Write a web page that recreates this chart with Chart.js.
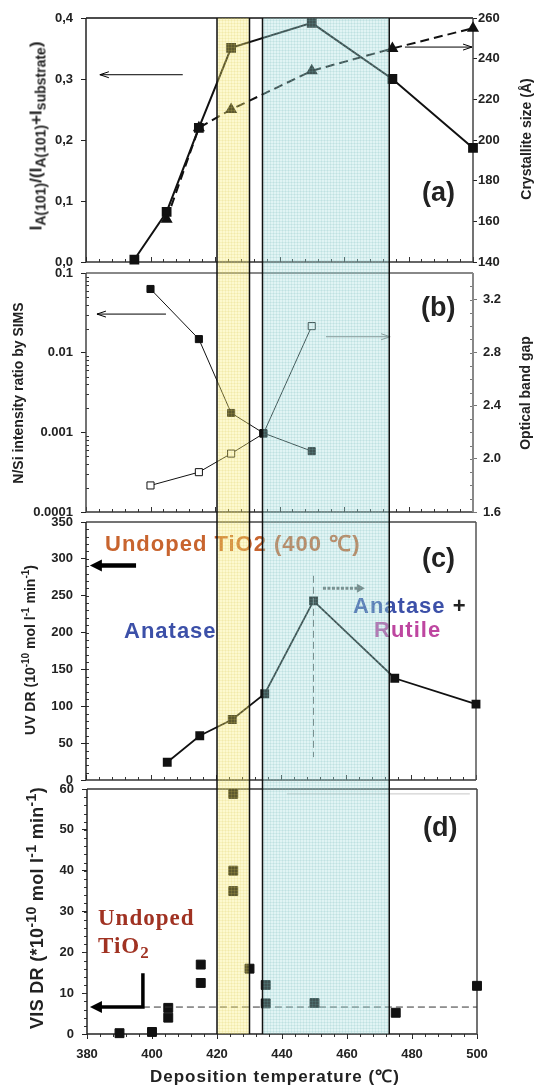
<!DOCTYPE html>
<html><head><meta charset="utf-8">
<script src="https://cdn.jsdelivr.net/npm/chart.js@4/dist/chart.umd.min.js"></script>
<style>
html,body{margin:0;padding:0;background:#fff;}
#wrap{position:relative;width:536px;height:1086px;overflow:hidden;font-family:'Liberation Sans',Arial,sans-serif;color:#222;}
canvas{position:absolute;left:0;top:0;width:536px;height:1086px;}
.t{position:absolute;white-space:nowrap;font-weight:bold;line-height:1;z-index:1;}
.rot{transform:translate(-50%,-50%) rotate(-90deg);}
.mid{transform:translateY(-50%);}
.t sub,.t sup{line-height:0;}
</style></head>
<body>
<div id="wrap">
<canvas id="ca" width="536" height="1086" style="z-index:0"></canvas>
<canvas id="cb" width="536" height="1086" style="z-index:0"></canvas>
<canvas id="cc" width="536" height="1086" style="z-index:0"></canvas>

<div class="t rot" style="left:36px;top:136px;font-size:17px;">I<sub style="font-size:14px">A(101)</sub>/(I<sub style="font-size:14px">A(101)</sub>+I<sub style="font-size:14px">substrate</sub>)</div>
<div class="t rot" style="left:526px;top:139px;font-size:14px;">Crystallite size (Å)</div>
<div class="t rot" style="left:18px;top:393px;font-size:14px;">N/Si intensity ratio by SIMS</div>
<div class="t rot" style="left:525px;top:393px;font-size:14px;">Optical band gap</div>
<div class="t rot" style="left:30px;top:650px;font-size:14px;">UV DR (10<sup style="font-size:10px">-10</sup> mol l<sup style="font-size:10px">-1</sup> min<sup style="font-size:10px">-1</sup>)</div>
<div class="t rot" style="left:37px;top:908px;font-size:18px;letter-spacing:0.3px;">VIS DR (*10<sup style="font-size:14px">-10</sup> mol l<sup style="font-size:14px">-1</sup> min<sup style="font-size:14px">-1</sup>)</div>
<div class="t" style="left:150px;top:1068px;font-size:17px;letter-spacing:1px;">Deposition temperature (℃)</div>

<div class="t mid" style="left:422px;top:192px;font-size:27px;">(a)</div>
<div class="t mid" style="left:421px;top:307px;font-size:27px;">(b)</div>
<div class="t mid" style="left:422px;top:558px;font-size:27px;">(c)</div>
<div class="t mid" style="left:423px;top:827px;font-size:27px;">(d)</div>

<div class="t mid" style="left:105px;top:544px;font-size:22px;letter-spacing:1px;color:#c8642e;">Undoped TiO2 (400 ℃)</div>
<div class="t mid" style="left:124px;top:631px;font-size:22px;letter-spacing:1px;color:#3c50a8;">Anatase</div>
<div class="t mid" style="left:353px;top:606px;font-size:22px;letter-spacing:1px;color:#3c50a8;">Anatase <span style="color:#222">+</span></div>
<div class="t mid" style="left:374px;top:630px;font-size:22px;letter-spacing:1px;color:#be46a0;">Rutile</div>
<div class="t mid" style="left:98px;top:917px;font-size:23px;letter-spacing:1px;color:#a03222;font-family:'Liberation Serif','DejaVu Serif',serif;">Undoped</div>
<div class="t mid" style="left:98px;top:945px;font-size:23px;letter-spacing:1px;color:#a03222;font-family:'Liberation Serif','DejaVu Serif',serif;">TiO<sub style="font-size:17px">2</sub></div>

<canvas id="cd" width="536" height="1086" style="z-index:2;pointer-events:none"></canvas>
</div>
<script>
// ---------------- data ----------------
const xTickLabels = [380, 400, 420, 440, 460, 480, 500];
// (a)
const aTemps = [395, 405, 415, 425, 450, 475, 500];
const aPeakRatio = [0.004, 0.082, 0.22, 0.351, 0.392, 0.30, 0.187];
const aCrystTemps = [405, 415, 425, 450, 475, 500];
const aCrystSize = [161, 206, 215, 234, 245, 255];
// (b)
const bTemps = [400, 415, 425, 435, 450];
const bNSiRatio = [0.063, 0.0148, 0.00175, 0.00098, 0.00058];
const bBandGap = [1.8, 1.9, 2.04, 2.19, 3.0];
// (c)
const cTemps = [405, 415, 425, 435, 450, 475, 500];
const cUvDR = [24, 60, 82, 117, 243, 138, 103];
const cUndopedUvDR = 291;
// (d)
const dTemps = [390, 400, 405, 405, 415, 415, 425, 425, 425, 430, 435, 435, 450, 475, 500];
const dVisDR = [0.2, 0.5, 6.4, 4, 17, 12.5, 58.8, 40, 35, 16, 12, 7.5, 7.6, 5.2, 11.8];
const dUndopedVisDR = 6.6;
// phase bands (deposition temperature)
const bandYellow = [420, 430];
const bandCyan = [434, 473];

// -------------- helpers --------------
const H = 1086, W = 536;
const tickFont = {family: "'Liberation Sans', Arial, sans-serif", weight: 'bold', size: 13};
const pts = (xs, ys) => xs.map((x, i) => ({x, y: ys[i]}));
const range = (a, b, s) => { const r = []; for (let v = a; v <= b + 1e-9; v += s) r.push(+v.toFixed(6)); return r; };
const xMinor = range(380, 500, 4);
const isMajorX = v => v % 20 === 0;

function drawArrow(ctx, path, o) {
  ctx.save();
  const col = o.color || '#000';
  ctx.strokeStyle = col; ctx.fillStyle = col;
  ctx.lineWidth = o.width || 1;
  ctx.setLineDash(o.dash || []);
  const n = path.length;
  const [x1, y1] = path[n - 2], [x2, y2] = path[n - 1];
  const ang = Math.atan2(y2 - y1, x2 - x1);
  const hl = o.head || 9, hw = o.headW || 3.5;
  let ex = x2, ey = y2;
  if (o.filled) { ex = x2 - Math.cos(ang) * hl * 0.7; ey = y2 - Math.sin(ang) * hl * 0.7; }
  ctx.beginPath();
  ctx.moveTo(path[0][0], path[0][1]);
  for (let i = 1; i < n - 1; i++) ctx.lineTo(path[i][0], path[i][1]);
  ctx.lineTo(ex, ey);
  ctx.stroke();
  ctx.setLineDash([]);
  const px = -Math.sin(ang), py = Math.cos(ang);
  const bx = x2 - Math.cos(ang) * hl, by = y2 - Math.sin(ang) * hl;
  ctx.beginPath();
  if (o.filled) {
    ctx.moveTo(x2, y2); ctx.lineTo(bx + px * hw, by + py * hw); ctx.lineTo(bx - px * hw, by - py * hw); ctx.closePath(); ctx.fill();
  } else {
    ctx.lineWidth = 1;
    ctx.moveTo(bx + px * hw, by + py * hw); ctx.lineTo(x2, y2); ctx.lineTo(bx - px * hw, by - py * hw); ctx.stroke();
  }
  ctx.restore();
}

const decor = {
  id: 'decor',
  beforeDatasetsDraw(chart, args, opts) {
    const ctx = chart.ctx, a = chart.chartArea;
    (opts.ticks || []).forEach(t => {
      const s = chart.scales[t.scale];
      ctx.save(); ctx.strokeStyle = t.color || '#333'; ctx.lineWidth = 1; ctx.beginPath();
      t.values.forEach(v => {
        const p = Math.round(s.getPixelForValue(v)) + 0.5;
        const len = (t.major && t.major(v)) ? t.majorLen : t.len;
        if (t.side === 'bottom') { const d = t.dir === 'in' ? -len : len; ctx.moveTo(p, a.bottom); ctx.lineTo(p, a.bottom + d); }
        if (t.side === 'left') { const d = t.dir === 'in' ? len : -len; ctx.moveTo(a.left, p); ctx.lineTo(a.left + d, p); }
        if (t.side === 'right') { const d = t.dir === 'in' ? -len : len; ctx.moveTo(a.right, p); ctx.lineTo(a.right + d, p); }
      });
      ctx.stroke(); ctx.restore();
    });
    const b = opts.box || {};
    const seg = {top: [a.left, a.top, a.right, a.top], bottom: [a.left, a.bottom, a.right, a.bottom],
                 left: [a.left, a.top, a.left, a.bottom], right: [a.right, a.top, a.right, a.bottom]};
    Object.keys(b).forEach(k => {
      const [x1, y1, x2, y2] = seg[k];
      ctx.save(); ctx.strokeStyle = b[k].c; ctx.lineWidth = b[k].w;
      ctx.beginPath(); ctx.moveTo(x1, y1); ctx.lineTo(x2, y2); ctx.stroke(); ctx.restore();
    });
  },
  afterDatasetsDraw(chart, args, opts) {
    const ctx = chart.ctx, X = chart.scales.x;
    (opts.lines || []).forEach(l => {
      const Y = chart.scales[l.scale];
      ctx.save(); ctx.strokeStyle = l.color; ctx.lineWidth = l.width; ctx.setLineDash(l.dash || []);
      ctx.beginPath();
      l.path.forEach((p, i) => { const fx = X.getPixelForValue(p[0]), fy = Y.getPixelForValue(p[1]); i ? ctx.lineTo(fx, fy) : ctx.moveTo(fx, fy); });
      ctx.stroke(); ctx.restore();
    });
    (opts.arrows || []).forEach(ar => {
      const Y = chart.scales[ar.scale];
      drawArrow(ctx, ar.path.map(p => [X.getPixelForValue(p[0]), Y.getPixelForValue(p[1])]), ar);
    });
  }
};

function yScale(o) {
  return Object.assign({
    type: 'linear',
    afterFit: s => { s.width = o.w; s.paddingTop = 0; s.paddingBottom = 0; },
    ticks: {font: tickFont, color: '#222', padding: o.pad || 8, stepSize: o.step, callback: o.cb},
    grid: {drawOnChartArea: false, tickLength: o.tl || 5, color: o.tc || '#222'},
    border: {display: false}
  }, o.extra);
}
const xHidden = {type: 'linear', min: 380, max: 500, display: false};

function make(id, datasets, scales, padding, plug) {
  return new Chart(document.getElementById(id), {
    type: 'line',
    data: {datasets},
    options: {
      responsive: false, animation: false, devicePixelRatio: 1,
      layout: {padding},
      scales,
      plugins: Object.assign({legend: {display: false}, tooltip: {enabled: false}}, plug)
    },
    plugins: [decor].concat(plug.extraPlugins || [])
  });
}

// ---------------- (a) ----------------
const chartA = make('ca', [
  {data: pts(aTemps, aPeakRatio), yAxisID: 'y', borderColor: '#111', borderWidth: 2, pointStyle: 'rect', pointRadius: 5.5,
   pointBackgroundColor: '#111', pointBorderColor: '#111', clip: false},
  {data: pts(aCrystTemps, aCrystSize), yAxisID: 'y2', borderColor: '#111', borderWidth: 2, borderDash: [9, 5], pointStyle: 'triangle', pointRadius: 5,
   pointBackgroundColor: '#111', pointBorderColor: '#111', clip: false}
], {
  x: xHidden,
  y: yScale({w: 86, step: 0.1, cb: v => v.toFixed(1).replace('.', ','), extra: {position: 'left', min: 0, max: 0.4}}),
  y2: yScale({w: 63, step: 20, tl: 4, pad: 1, extra: {position: 'right', min: 140, max: 260}})
}, {top: 18, bottom: H - 262, left: 0, right: 0}, {
  decor: {
    ticks: [{scale: 'x', side: 'bottom', dir: 'in', values: xMinor, len: 3, majorLen: 5, major: isMajorX}],
    box: {top: {c: '#111', w: 1.5}, bottom: {c: '#333', w: 1.5}, left: {c: '#222', w: 1.5}, right: {c: '#444', w: 1.5}},
    arrows: [
      {scale: 'y', path: [[410, 0.307], [384.3, 0.307]], width: 1, head: 9, headW: 3},
      {scale: 'y2', path: [[478.9, 245.7], [499.7, 245.7]], width: 1, head: 9, headW: 3}
    ]
  }
});

// ---------------- (b) ----------------
const logMinor = [];
[1e-4, 1e-3, 1e-2].forEach(d => { for (let m = 2; m <= 9; m++) logMinor.push(m * d); });
const chartB = make('cb', [
  {data: pts(bTemps, bNSiRatio), yAxisID: 'y', borderColor: '#111', borderWidth: 1, pointStyle: 'rect', pointRadius: 5,
   pointBackgroundColor: '#111', pointBorderColor: '#111', clip: false},
  {data: pts(bTemps, bBandGap), yAxisID: 'y2', borderColor: '#111', borderWidth: 1, pointStyle: 'rect', pointRadius: 5,
   pointBackgroundColor: '#fff', pointBorderColor: '#111', pointBorderWidth: 1, clip: false}
], {
  x: xHidden,
  y: yScale({w: 86, cb: v => String(v), extra: {type: 'logarithmic', position: 'left', min: 0.0001, max: 0.1,
    afterBuildTicks: s => { s.ticks = [1e-4, 1e-3, 1e-2, 1e-1].map(v => ({value: v})); }}}),
  y2: yScale({w: 63, step: 0.4, tl: 4, pad: 6, tc: '#777', cb: v => v.toFixed(1), extra: {position: 'right', min: 1.6, max: 3.4,
    afterBuildTicks: s => { s.ticks = [1.6, 2.0, 2.4, 2.8, 3.2].map(v => ({value: v})); }}})
}, {top: 273, bottom: H - 512, left: 0, right: 0}, {
  decor: {
    ticks: [
      {scale: 'x', side: 'bottom', dir: 'in', values: xMinor, len: 3, majorLen: 5, major: isMajorX},
      {scale: 'y', side: 'left', dir: 'in', values: logMinor, len: 3},
      {scale: 'y2', side: 'right', dir: 'in', values: range(1.7, 3.3, 0.1), len: 3, color: '#777'}
    ],
    box: {top: {c: '#888', w: 2}, bottom: {c: '#333', w: 1.5}, left: {c: '#444', w: 1.5}, right: {c: '#888', w: 2}},
    arrows: [
      {scale: 'y', path: [[404.8, 0.0305], [383.4, 0.0305]], width: 1, head: 9, headW: 3},
      {scale: 'y2', path: [[454.4, 2.92], [474.3, 2.92]], width: 1, head: 9, headW: 3, color: '#777'}
    ]
  }
});

// ---------------- (c) ----------------
const chartC = make('cc', [
  {data: pts(cTemps, cUvDR), yAxisID: 'y', borderColor: '#111', borderWidth: 1.8, pointStyle: 'rect', pointRadius: 5,
   pointBackgroundColor: '#111', pointBorderColor: '#111', clip: false}
], {
  x: xHidden,
  y: yScale({w: 86, step: 50, extra: {position: 'left', min: 0, max: 350}})
}, {top: 522, bottom: H - 780, left: 0, right: W - 476}, {
  decor: {
    ticks: [
      {scale: 'x', side: 'bottom', dir: 'in', values: xMinor, len: 3, majorLen: 5, major: isMajorX},
      {scale: 'y', side: 'left', dir: 'in', values: range(10, 340, 10), len: 3}
    ],
    box: {top: {c: '#444', w: 1.5}, bottom: {c: '#333', w: 1.5}, left: {c: '#222', w: 1.5}, right: {c: '#555', w: 1.5}},
    lines: [{scale: 'y', path: [[450, 277], [450, 31]], color: '#666', width: 1, dash: [7, 4]}],
    arrows: [
      {scale: 'y', path: [[395.4, cUndopedUvDR], [381.2, cUndopedUvDR]], width: 4.5, head: 12, headW: 6, filled: true},
      {scale: 'y', path: [[452.9, 260], [465.8, 260]], width: 3, head: 8, headW: 4.5, filled: true, color: '#666', dash: [3, 1.5]}
    ]
  }
});

// ---------------- (d) ----------------
const bandPlugin = {
  id: 'bands',
  afterDraw(chart, args, opts) {
    const ctx = chart.ctx, X = chart.scales.x;
    const top = chartA.chartArea.top, bottom = chart.chartArea.bottom;
    opts.list.forEach(b => {
      const x1 = X.getPixelForValue(b.range[0]), x2 = X.getPixelForValue(b.range[1]);
      ctx.save();
      ctx.fillStyle = b.fill; ctx.fillRect(x1, top, x2 - x1, bottom - top);
      ctx.strokeStyle = b.grid; ctx.lineWidth = 1; ctx.beginPath();
      for (let gx = Math.floor(x1) + 2.5; gx < x2; gx += 3) { ctx.moveTo(gx, top); ctx.lineTo(gx, bottom); }
      for (let gy = Math.floor(top) + 2.5; gy < bottom; gy += 3) { ctx.moveTo(x1, gy); ctx.lineTo(x2, gy); }
      ctx.stroke();
      ctx.strokeStyle = '#111'; ctx.lineWidth = 1.5; ctx.beginPath();
      ctx.moveTo(x1, top); ctx.lineTo(x1, bottom); ctx.moveTo(x2, top); ctx.lineTo(x2, bottom);
      ctx.stroke();
      ctx.restore();
    });
  }
};
const chartD = make('cd', [
  {data: pts(dTemps, dVisDR), yAxisID: 'y', showLine: false, pointStyle: 'rect', pointRadius: 6.3,
   pointBackgroundColor: '#111', pointBorderColor: '#111', clip: false}
], {
  x: {type: 'linear', min: 380, max: 500,
      afterFit: s => { s.height = H - 1034; s.paddingLeft = 0; s.paddingRight = 0; },
      afterBuildTicks: s => { s.ticks = xTickLabels.map(v => ({value: v})); },
      ticks: {font: tickFont, color: '#222', padding: 8, maxRotation: 0},
      grid: {drawOnChartArea: false, tickLength: 5, color: '#222'}, border: {display: false}},
  y: yScale({w: 87, step: 10, extra: {position: 'left', min: 0, max: 60}})
}, {top: 789, bottom: 0, left: 0, right: W - 477}, {
  decor: {
    ticks: [
      {scale: 'x', side: 'bottom', dir: 'out', values: xMinor, len: 3},
      {scale: 'y', side: 'left', dir: 'out', values: range(2, 58, 2), len: 3}
    ],
    box: {top: {c: '#333', w: 1.5}, bottom: {c: '#222', w: 1.5}, left: {c: '#222', w: 1.5}, right: {c: '#444', w: 1.5}},
    lines: [
      {scale: 'y', path: [[441.5, 58.8], [497.8, 58.8]], color: '#c8c8c8', width: 1},
      {scale: 'y', path: [[397.2, dUndopedVisDR], [500, dUndopedVisDR]], color: '#333', width: 1, dash: [7, 4]}
    ],
    arrows: [
      {scale: 'y', path: [[397.2, 14.9], [397.2, dUndopedVisDR], [380.9, dUndopedVisDR]], width: 3.5, head: 12, headW: 6, filled: true}
    ]
  },
  bands: {list: [
    {range: bandYellow, fill: 'rgba(250,236,110,0.33)', grid: 'rgba(215,200,90,0.16)'},
    {range: bandCyan, fill: 'rgba(165,222,222,0.33)', grid: 'rgba(110,180,180,0.16)'}
  ]},
  extraPlugins: [bandPlugin]
});
</script>
</body></html>
